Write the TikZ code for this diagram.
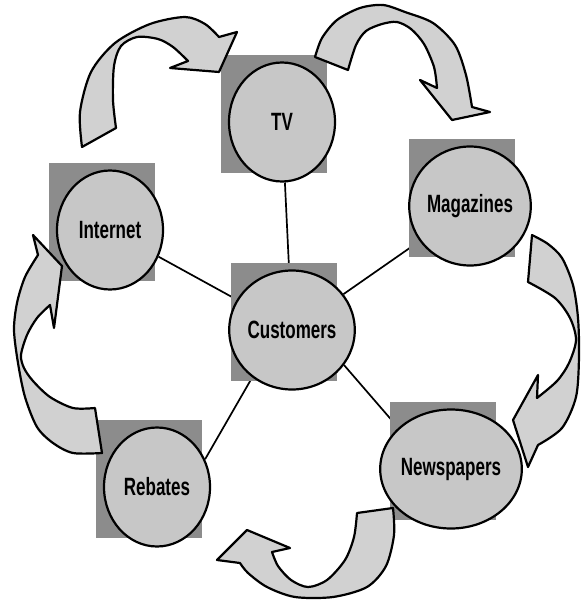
\documentclass[tikz,border=0pt]{standalone}
\usepackage{fontspec}
\newfontfamily\labelfont{Liberation Sans}[FakeStretch=0.68]
\usetikzlibrary{shapes.geometric, backgrounds}

\begin{document}
\begin{tikzpicture}[x=1pt, y=-1pt,
    hub/.style={ellipse, draw, line width=2.2pt, fill=black!22, inner sep=0pt,
      minimum width=106pt, minimum height=119pt,
      font=\labelfont\bfseries\fontsize{25}{26}\selectfont},
    backsq/.style={rectangle, fill=black!45, inner sep=0pt,
      minimum width=106pt, minimum height=118pt},
    band/.style={draw, line width=2.2pt, fill=black!18, line join=round},
    link/.style={line width=1.7pt}]
  \useasboundingbox (0,0) rectangle (581,604);

  \foreach \n/\x/\y in {tv/282/122, int/110/230, mag/470/206, cust/292/330, reb/157/487, news/451/469}
    \node (\n sq) [backsq] at (\x-8,\y-8) {};

  \draw[band] (82,147) -- plot[smooth] coordinates {(82,147) (80,112) (91,72) (115,43) (150,24) (185,17) (205,24) (219,37)}
    -- (237,32) -- (219,72) -- (170,68) -- (188,61)
    -- plot[smooth] coordinates {(188,61) (173,47) (158,39) (137,37) (121,46) (114,66) (113,100) (116,128)} -- cycle;
  \draw[band] (315,57) -- plot[smooth] coordinates {(315,57) (322,38) (337,20) (360,8) (383,5) (405,12) (433,23) (455,45) (466,75) (472,107)}
    -- (490,112) -- (452,120) -- (420,80) -- (437,88)
    -- plot[smooth] coordinates {(437,88) (434,67) (424,44) (411,29) (397,22) (382,24) (366,31) (356,45) (348,70)} -- cycle;
  \draw[band] (532,235) -- plot[smooth] coordinates {(532,235) (548,244) (562,258) (573,285) (578,318) (579,357) (576,397) (562,428) (538,445)}
    -- (528,467) -- (513,420) -- (538,375) -- (537,398)
    -- plot[smooth] coordinates {(537,398) (557,381) (569,363) (576,340) (570,318) (555,298) (528,282)} -- cycle;
  \draw[band] (357,513) -- (393,508) -- plot[smooth] coordinates {(393,508) (394,535) (386,566) (367,587) (333,597) (295,597) (267,587) (248,573) (240,563)}
    -- (217,560) -- (247,530) -- (290,548) -- (272,552)
    -- plot[smooth] coordinates {(272,552) (278,566) (291,580) (308,587) (327,580) (345,560) (354,537) (357,513)} -- cycle;
  \draw[band] (95,408) -- (102,453) -- plot[smooth] coordinates {(102,453) (73,453) (53,443) (37,427) (25,397) (18,363) (14,330) (17,303) (25,277) (38,255)}
    -- (33,235) -- (62,266) -- (54,328) -- (50,305)
    -- plot[smooth] coordinates {(50,305) (37,318) (27,335) (21,355) (24,368) (33,381) (50,397) (73,408) (95,408)} -- cycle;

  \node (tv)   [hub] at (282,122) {TV};
  \node (int)  [hub] at (110,230) {Internet};
  \node (mag)  [hub] at (470,206) {Magazines};
  \node (cust) [hub] at (292,330) {Customers};
  \node (reb)  [hub] at (157,487) {Rebates};
  \node (news) [hub] at (451,469) {Newspapers};

  \begin{scope}[on background layer]
    \foreach \a in {tv, int, mag}
      \draw[link] (\a) -- (cust);
    \draw[link] (cust.230) -- (reb.30);
    \draw[link] (cust.326) -- (news.142);
  \end{scope}
\end{tikzpicture}
\end{document}
